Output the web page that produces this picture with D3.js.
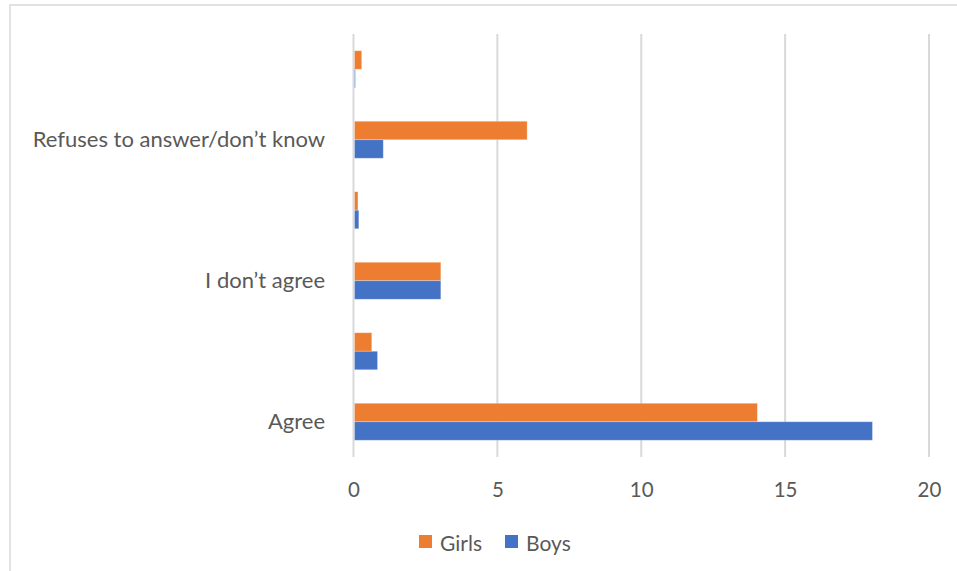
<!DOCTYPE html>
<html>
<head>
<meta charset="utf-8">
<script src="https://cdn.jsdelivr.net/npm/d3@7"></script>
<style>
  html, body { margin: 0; padding: 0; background: #fff; }
  svg { display: block; }
</style>
</head>
<body>
<svg id="chart" width="957" height="571"></svg>
<script>
// Answer categories, listed from the bottom of the chart upwards
const categories = ["Agree", "", "I don’t agree", "", "Refuses to answer/don’t know", ""];
const boys  = [18, 0.8, 3, 0.15, 1, 0.03];
const girls = [14, 0.6, 3, 0.12, 6, 0.25];
const xTicks = [0, 5, 10, 15, 20];
const seriesNames = ["Girls", "Boys"];
const seriesColors = { Girls: "#ED7D31", Boys: "#4472C4" };

const svg = d3.select("#chart");
const W = 957, H = 571;
const FONT = "Lato, 'Open Sans', sans-serif";
const TEXT = "#595959";
const GRID = "#d9d9d9";

// Outer frame
svg.append("rect")
  .attr("x", 10).attr("y", 5)
  .attr("width", W + 20).attr("height", H + 20)
  .attr("fill", "#fff").attr("stroke", GRID).attr("stroke-width", 1.5);

const plot = { left: 353.5, right: 929, top: 34, bottom: 457 };

const x = d3.scaleLinear().domain([0, 20]).range([plot.left, plot.right]);

const idx = d3.range(categories.length);
// band 0 (Agree) sits at the bottom
const y = d3.scaleBand()
  .domain(idx.slice().reverse())
  .range([plot.top, plot.bottom])
  .paddingInner(0.475)
  .paddingOuter(0.2375);

// Boys in the lower half of each group, Girls above
const ySub = d3.scaleBand().domain(["Girls", "Boys"]).range([0, y.bandwidth()]);

// Vertical gridlines
svg.append("g")
  .selectAll("line")
  .data(xTicks)
  .join("line")
  .attr("x1", d => x(d)).attr("x2", d => x(d))
  .attr("y1", plot.top).attr("y2", plot.bottom)
  .attr("stroke", GRID).attr("stroke-width", 2);

// Bars
const rows = idx.map(i => ({ i, Girls: girls[i], Boys: boys[i] }));
const groups = svg.append("g")
  .selectAll("g")
  .data(rows)
  .join("g")
  .attr("transform", d => `translate(0,${y(d.i)})`);

groups.selectAll("rect")
  .data(d => seriesNames.map(s => ({ s, v: d[s] })))
  .join("rect")
  .attr("x", x(0) + 1)
  .attr("y", d => ySub(d.s))
  .attr("width", d => Math.max(0.8, x(d.v) - x(0)))
  .attr("height", ySub.bandwidth())
  .attr("fill", d => seriesColors[d.s])
  .attr("stroke", "#fff").attr("stroke-opacity", 0.35).attr("stroke-width", 0.8);

// Category labels
svg.append("g")
  .selectAll("text")
  .data(idx)
  .join("text")
  .attr("x", 325)
  .attr("y", i => y(i) + y.bandwidth() / 2)
  .attr("dy", "0.35em")
  .attr("text-anchor", "end")
  .attr("font-family", FONT).attr("font-size", 22)
  .attr("fill", TEXT)
  .text(i => categories[i]);

// Value axis labels
const xAxis = d3.axisBottom(x).tickValues(xTicks).tickSize(0).tickPadding(0);
const gx = svg.append("g").attr("transform", `translate(0,${plot.bottom})`).call(xAxis);
gx.select(".domain").remove();
gx.selectAll("text")
  .attr("y", 40).attr("dy", 0)
  .attr("font-family", FONT).attr("font-size", 20.5)
  .attr("fill", TEXT);

// Legend
const legend = svg.append("g");
const legendItems = [
  { s: "Girls", x: 419 },
  { s: "Boys", x: 505 }
];
const li = legend.selectAll("g").data(legendItems).join("g")
  .attr("transform", d => `translate(${d.x},535)`);
li.append("rect").attr("width", 13).attr("height", 13)
  .attr("fill", d => seriesColors[d.s]);
li.append("text").attr("x", 21).attr("y", 16)
  .attr("font-family", FONT).attr("font-size", 21)
  .attr("fill", TEXT).text(d => d.s);
</script>
</body>
</html>
